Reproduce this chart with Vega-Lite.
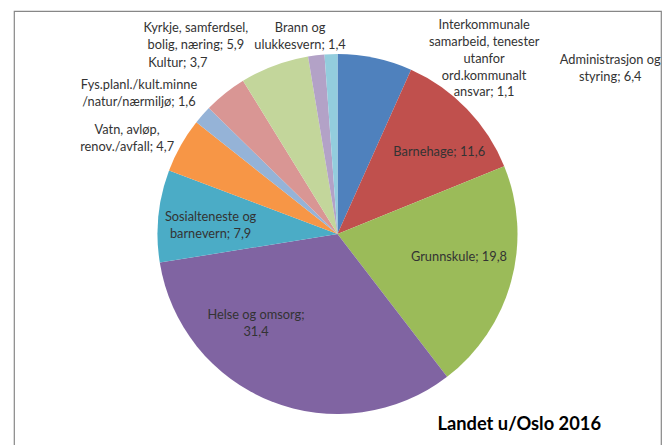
{
  "$schema": "https://vega.github.io/schema/vega-lite/v6.json",
  "width": 647,
  "height": 446,
  "autosize": "none",
  "padding": {"left": 14, "top": 11, "right": 6, "bottom": 0},
  "background": "white",
  "view": {"stroke": "#878787", "strokeWidth": 1.2},
  "title": {
    "text": "Landet u/Oslo 2016",
    "orient": "bottom",
    "anchor": "end",
    "frame": "group",
    "offset": -27,
    "baseline": "alphabetic",
    "dx": -60,
    "font": "Lato",
    "fontSize": 18.3,
    "fontWeight": "bold",
    "color": "#000000"
  },
  "config": {
    "text": {"lineBreak": "\n", "font": "Lato", "fontSize": 12.8, "lineHeight": 16.8, "color": "#333333"}
  },
  "data": {
    "values": [
      {"cat": "Administrasjon og styring", "value": 6.4, "label": "Administrasjon og\nstyring; 6,4"},
      {"cat": "Barnehage", "value": 11.6, "label": "Barnehage; 11,6"},
      {"cat": "Grunnskule", "value": 19.8, "label": "Grunnskule; 19,8"},
      {"cat": "Helse og omsorg", "value": 31.4, "label": "Helse og omsorg;\n31,4"},
      {"cat": "Sosialteneste og barnevern", "value": 7.9, "label": "Sosialteneste og\nbarnevern; 7,9"},
      {"cat": "Vatn, avløp, renov./avfall", "value": 4.7, "label": "Vatn, avløp,\nrenov./avfall; 4,7"},
      {"cat": "Fys.planl./kult.minne/natur/nærmiljø", "value": 1.6, "label": "Fys.planl./kult.minne\n/natur/nærmiljø; 1,6"},
      {"cat": "Kultur", "value": 3.7, "label": "Kultur; 3,7"},
      {"cat": "Kyrkje, samferdsel, bolig, næring", "value": 5.9, "label": "Kyrkje, samferdsel,\nbolig, næring; 5,9"},
      {"cat": "Brann og ulukkesvern", "value": 1.4, "label": "Brann og\nulukkesvern; 1,4"},
      {"cat": "Interkommunale samarbeid", "value": 1.1, "label": "Interkommunale\nsamarbeid, tenester\nutanfor\nord.kommunalt\nansvar; 1,1"}
    ]
  },
  "transform": [{"window": [{"op": "row_number", "as": "idx"}]}],
  "encoding": {
    "theta": {"field": "value", "type": "quantitative", "stack": true},
    "order": {"field": "idx", "type": "quantitative"}
  },
  "layer": [
    {
      "mark": {"type": "arc", "radius": 180},
      "encoding": {
        "color": {
          "field": "cat",
          "type": "nominal",
          "legend": null,
          "scale": {
            "domain": ["Administrasjon og styring", "Barnehage", "Grunnskule", "Helse og omsorg", "Sosialteneste og barnevern", "Vatn, avløp, renov./avfall", "Fys.planl./kult.minne/natur/nærmiljø", "Kultur", "Kyrkje, samferdsel, bolig, næring", "Brann og ulukkesvern", "Interkommunale samarbeid"],
            "range": ["#4F81BD", "#C0504D", "#9BBB59", "#8064A2", "#4BACC6", "#F79646", "#95B3D7", "#D99694", "#C3D69B", "#B3A2C7", "#93CDDD"]
          }
        }
      }
    },
    {"mark": {"type": "text", "radius": 115, "dx": 19, "dy": -2},
     "encoding": {"text": {"condition": {"test": "datum.cat === 'Barnehage'", "field": "label"}, "value": ""}}},
    {"mark": {"type": "text", "radius": 115, "dx": 10.5, "dy": -7},
     "encoding": {"text": {"condition": {"test": "datum.cat === 'Grunnskule'", "field": "label"}, "value": ""}}},
    {"mark": {"type": "text", "radius": 115, "dx": -39, "dy": -26},
     "encoding": {"text": {"condition": {"test": "datum.cat === 'Helse og omsorg'", "field": "label"}, "value": ""}}},
    {"mark": {"type": "text", "radius": 115, "dx": -12.5, "dy": -5},
     "encoding": {"text": {"condition": {"test": "datum.cat === 'Sosialteneste og barnevern'", "field": "label"}, "value": ""}}},
    {"mark": {"type": "text", "radius": 190, "dx": 233, "dy": 12},
     "encoding": {"text": {"condition": {"test": "datum.cat === 'Administrasjon og styring'", "field": "label"}, "value": ""}}},
    {"mark": {"type": "text", "radius": 190, "dx": 153.5, "dy": -19},
     "encoding": {"text": {"condition": {"test": "datum.cat === 'Interkommunale samarbeid'", "field": "label"}, "value": ""}}},
    {"mark": {"type": "text", "radius": 190, "dx": -15, "dy": -17},
     "encoding": {"text": {"condition": {"test": "datum.cat === 'Brann og ulukkesvern'", "field": "label"}, "value": ""}}},
    {"mark": {"type": "text", "radius": 190, "dx": -75, "dy": -28},
     "encoding": {"text": {"condition": {"test": "datum.cat === 'Kyrkje, samferdsel, bolig, næring'", "field": "label"}, "value": ""}}},
    {"mark": {"type": "text", "radius": 190, "dx": -41, "dy": -22.5},
     "encoding": {"text": {"condition": {"test": "datum.cat === 'Kultur'", "field": "label"}, "value": ""}}},
    {"mark": {"type": "text", "radius": 190, "dx": -56, "dy": -23},
     "encoding": {"text": {"condition": {"test": "datum.cat === 'Fys.planl./kult.minne/natur/nærmiljø'", "field": "label"}, "value": ""}}},
    {"mark": {"type": "text", "radius": 190, "dx": -45, "dy": -10},
     "encoding": {"text": {"condition": {"test": "datum.cat === 'Vatn, avløp, renov./avfall'", "field": "label"}, "value": ""}}}
  ]
}
